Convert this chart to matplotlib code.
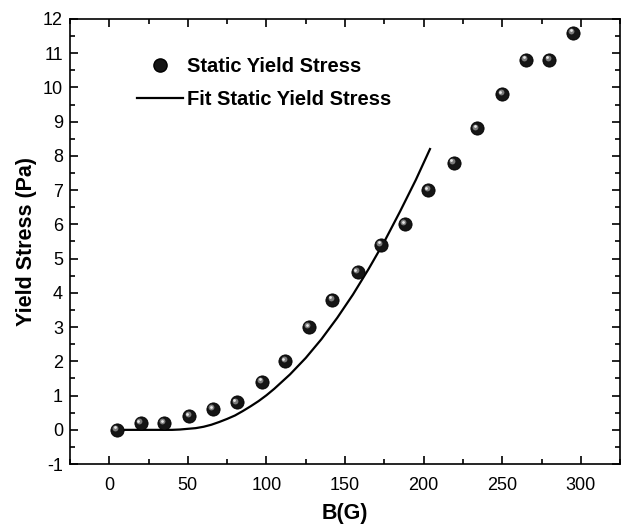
import matplotlib.pyplot as plt
from matplotlib.ticker import MultipleLocator
from matplotlib.lines import Line2D
import matplotlib.transforms as mtransforms

plt.rcParams['font.family'] = ['Liberation Sans', 'DejaVu Sans']
plt.rcParams['axes.unicode_minus'] = False

# measured static yield stress
b_field = [5, 20, 35, 51, 66, 81, 97, 112, 127, 142, 158, 173, 188, 203, 219, 234, 250, 265, 280, 295]
yield_stress = [0, 0.2, 0.2, 0.4, 0.6, 0.8, 1.4, 2.0, 3.0, 3.8, 4.6, 5.4, 6.0, 7.0, 7.8, 8.8, 9.8, 10.8, 10.8, 11.6]

# fit curve
fit_b = [5, 15, 25, 35, 40, 45, 50, 55, 60, 65, 70, 75, 80, 85, 90, 95, 100, 105, 115, 125,
         135, 145, 155, 165, 175, 185, 195, 204]
fit_stress = [0, 0, 0, 0, 0, 0.01, 0.03, 0.05, 0.09, 0.15, 0.23, 0.32, 0.42, 0.55, 0.69, 0.84,
              1.01, 1.2, 1.62, 2.1, 2.65, 3.27, 3.95, 4.7, 5.5, 6.38, 7.3, 8.2]

fig = plt.figure(figsize=(6.24, 5.25), dpi=100)
ax = fig.add_axes([0.112, 0.116, 0.882, 0.848])

ax.plot(fit_b, fit_stress, color='black', lw=1.6, zorder=2)

# sphere-like markers: dark ball + highlights
ax.plot(b_field, yield_stress, 'o', ms=9.5, color='#151515', mec='black', mew=0.6, zorder=3)
off1 = mtransforms.offset_copy(ax.transData, fig=fig, x=-1.3, y=1.4, units='points')
ax.plot(b_field, yield_stress, 'o', ms=4.2, color='#7a7a7a', mew=0, transform=off1, zorder=4)
off2 = mtransforms.offset_copy(ax.transData, fig=fig, x=-1.6, y=1.8, units='points')
ax.plot(b_field, yield_stress, 'o', ms=2.0, color='#e8e8e8', mew=0, transform=off2, zorder=5)

ax.set_xlim(-25, 325)
ax.set_ylim(-1, 12)
ax.xaxis.set_major_locator(MultipleLocator(50))
ax.xaxis.set_minor_locator(MultipleLocator(25))
ax.yaxis.set_major_locator(MultipleLocator(1))
ax.yaxis.set_minor_locator(MultipleLocator(0.5))
ax.tick_params(which='both', direction='in', top=True, right=True, width=1.2, labelsize=13)
ax.tick_params(axis='x', pad=9)
ax.tick_params(axis='y', pad=5)
ax.tick_params(which='major', length=6)
ax.tick_params(which='minor', length=3.5)
for s in ax.spines.values():
    s.set_linewidth(1.2)

ax.set_xlabel('B(G)', fontsize=15.5, fontweight='bold', labelpad=7)
ax.set_ylabel('Yield Stress (Pa)', fontsize=15.5, fontweight='bold', labelpad=4)

h1 = Line2D([], [], marker='o', ls='none', ms=9.5, color='#151515', mec='black')
h2 = Line2D([], [], color='black', lw=1.6)
ax.legend([h1, h2], ['Static Yield Stress', 'Fit Static Yield Stress'],
          loc='upper left', bbox_to_anchor=(0.122, 0.915), frameon=False,
          prop={'weight': 'bold', 'size': 14.5}, handlelength=2.3, handletextpad=0.2,
          labelspacing=0.72, borderpad=0, borderaxespad=0)

fig.savefig('out.png', dpi=100)
